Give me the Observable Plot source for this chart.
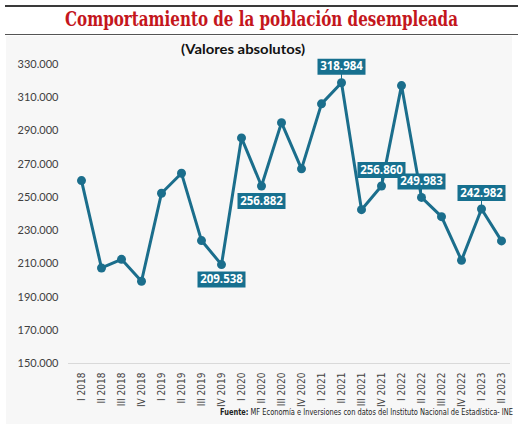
<!DOCTYPE html>
<html>
<head>
<meta charset="utf-8">
<script src="https://cdn.jsdelivr.net/npm/d3@7"></script>
<script src="https://cdn.jsdelivr.net/npm/@observablehq/plot@0.6"></script>
<style>
  html, body { margin: 0; padding: 0; background: #fff; }
  #wrap { position: relative; width: 523px; height: 426px; overflow: hidden; }
  .abs { position: absolute; white-space: nowrap; }
  #panel { left: 6px; top: 36px; width: 506px; height: 388px; background: #f7f7f7; }
  #line1 { left: 5px; top: 5px; width: 513px; height: 0; border-top: 2px solid #3a3a3a; }
  #line2 { left: 5px; top: 34px; width: 513px; height: 0; border-top: 1.5px solid #555; }
  #title { top: 9px; font-family: "DejaVu Serif", serif; font-stretch: condensed; font-weight: bold; font-size: 20px; line-height: 20px; color: #c4161c; transform-origin: 0 0; }
  #subtitle { top: 42px; font-family: Lato, "Open Sans", sans-serif; font-weight: bold; font-size: 14px; line-height: 14px; color: #111; transform-origin: 0 0; }
  #chart { left: 0; top: 56px; }
  #footer { top: 408px; font-family: "Liberation Sans Narrow", "DejaVu Sans Condensed", sans-serif; font-size: 9px; line-height: 9px; color: #222; transform-origin: 0 0; }
</style>
</head>
<body>
<div id="wrap">
  <div id="panel" class="abs"></div>
  <div id="line1" class="abs"></div>
  <div id="line2" class="abs"></div>
  <div id="title" class="abs">Comportamiento de la población desempleada</div>
  <div id="subtitle" class="abs">(Valores absolutos)</div>
  <div id="chart" class="abs"></div>
  <div id="footer" class="abs"><b>Fuente:</b> MF Economía e Inversiones con datos del Instituto Nacional de Estadística- INE</div>
</div>
<script>
const categories = ["I 2018","II 2018","III 2018","IV 2018","I 2019","II 2019","III 2019","IV 2019","I 2020","II 2020","III 2020","IV 2020","I 2021","II 2021","III 2021","IV 2021","I 2022","II 2022","III 2022","IV 2022","I 2023","II 2023"];
const values = [260100, 207500, 212700, 199500, 252500, 264500, 224000, 209538, 285800, 256882, 295000, 267200, 306300, 318984, 242600, 256860, 317300, 249983, 238400, 212100, 242982, 223800];
const yTicks = [150000, 170000, 190000, 210000, 230000, 250000, 270000, 290000, 310000, 330000];
const labelsAbove = ["II 2021", "IV 2021", "II 2022", "I 2023"];
const labelsBelow = ["IV 2019", "II 2020"];

const data = categories.map((c, i) => ({cat: c, value: values[i]}));
const locale = d3.formatLocale({decimal: ",", thousands: ".", grouping: [3], currency: ["", ""]});
const fmt = locale.format(",.0f");

const lineColor = "#1b6e8c";
const boxColor = "#17708f";
const boxSymbol = {draw(ctx) { ctx.rect(-24, -8, 48, 16); }};

const above = data.filter(d => labelsAbove.includes(d.cat));
const below = data.filter(d => labelsBelow.includes(d.cat));

const chart = Plot.plot({
  width: 523,
  height: 350,
  marginLeft: 79,
  marginRight: 21,
  marginTop: 8,
  marginBottom: 43,
  style: {background: "transparent", overflow: "visible"},
  x: {type: "point", domain: categories, padding: 0},
  y: {domain: [150000, 330000]},
  marks: [
    Plot.ruleY([150000], {stroke: "#d9d9d9", strokeWidth: 1, insetLeft: -11, insetRight: -8}),
    Plot.axisY({ticks: yTicks, tickSize: 0, tickPadding: 21, tickFormat: fmt, label: null,
      fontSize: 11, fontFamily: "Lato, 'Open Sans', sans-serif", fill: "#404040"}),
    Plot.axisX({tickRotate: -90, tickSize: 0, tickPadding: 9, label: null,
      fontSize: 10, fontFamily: "'Liberation Sans Narrow', 'DejaVu Sans Condensed', sans-serif", fill: "#404040"}),
    Plot.line(data, {x: "cat", y: "value", stroke: lineColor, strokeWidth: 3}),
    Plot.dot(data, {x: "cat", y: "value", r: 4.5, fill: lineColor}),
    Plot.ruleX(above, {x: "cat", y1: "value", y2: "value", stroke: lineColor, strokeWidth: 1, insetTop: -12}),
    Plot.dot(above, {x: "cat", y: "value", dy: -16, symbol: boxSymbol, fill: boxColor, r: 5}),
    Plot.text(above, {x: "cat", y: "value", dy: -16, text: d => fmt(d.value), fill: "white", fontWeight: "bold", fontSize: 11.5, fontFamily: "'Open Sans', sans-serif"}),
    Plot.dot(below, {x: "cat", y: "value", dy: 15, symbol: boxSymbol, fill: boxColor, r: 5}),
    Plot.text(below, {x: "cat", y: "value", dy: 15, text: d => fmt(d.value), fill: "white", fontWeight: "bold", fontSize: 11.5, fontFamily: "'Open Sans', sans-serif"})
  ]
});
document.getElementById("chart").appendChild(chart);

function fit(id, left, width) {
  const el = document.getElementById(id);
  const w = el.getBoundingClientRect().width;
  el.style.left = left + "px";
  el.style.transform = `scaleX(${width / w})`;
}
fit("title", 65, 393);
fit("subtitle", 181, 124);
fit("footer", 220, 293);
</script>
</body>
</html>
